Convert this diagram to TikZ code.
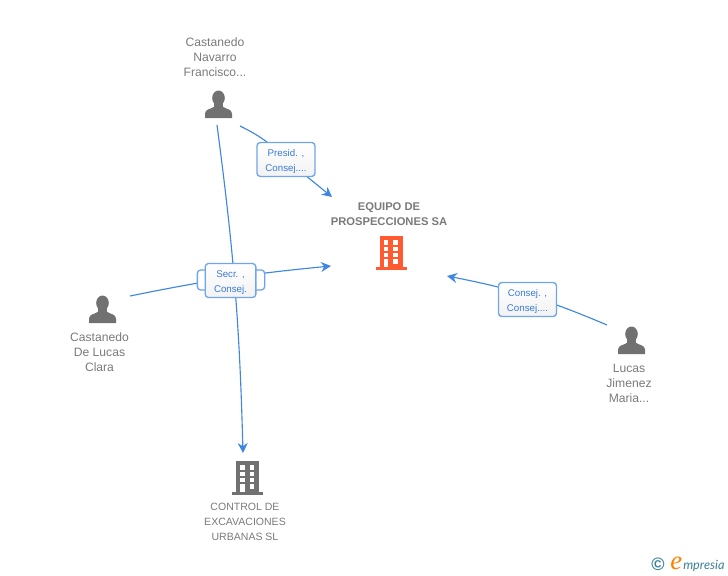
\documentclass[tikz,border=0pt]{standalone}
\usepackage{fontspec}
\setmainfont{Liberation Sans}
\newfontfamily\logofont{Lato}
\newfontfamily\logoefont{Liberation Serif}
\usetikzlibrary{arrows.meta,backgrounds}
\definecolor{linkblue}{HTML}{3F86E3}
\definecolor{boxblue}{HTML}{6FA5EA}
\definecolor{labelblue}{HTML}{3A7BD5}
\definecolor{icongray}{HTML}{717171}
\definecolor{textgray}{HTML}{7A7A7A}
\definecolor{firmorange}{HTML}{FF5A30}
\definecolor{logoteal}{HTML}{3C7F98}
\tikzset{
	link/.style={line width=0.85pt, color=linkblue, -{Stealth[length=7.5pt,width=7.5pt]}},
	rolebox/.style={draw=boxblue, line width=1pt, rounded corners=2.5pt, top color=white, bottom color=black!5, text=labelblue, minimum width=43.5pt, minimum height=25.5pt, inner sep=0pt, align=center, font=\fontsize{7.3}{11.25}\selectfont},
	caption/.style={text=textgray, align=center, inner sep=0pt, font=\fontsize{9.1}{11.25}\selectfont}
}
\def\rolelines#1#2{\rule{0pt}{8pt}#1\\#2}
\def\personicon(#1,#2){
	\begin{scope}[shift={(#1,#2)}]
		\fill[icongray] (0, -6.5) ellipse (6.3 and 7.5);
		\fill[icongray] (-4.5, -2) rectangle (4.5, 6);
		\fill[icongray] (-13.5, 13.5) -- (-13.5, 9) .. controls (-13.5, 4.5) and (-7, 4.5) .. (-4, 2) -- (4, 2) .. controls (7, 4.5) and (13.5, 4.5) .. (13.5, 9) -- (13.5, 13.5) -- cycle;
	\end{scope}
}
\def\firmicon(#1,#2)[#3]{
	\begin{scope}[shift={(#1,#2)}]
		\fill[#3] (-11.5, -17) rectangle (11.5, 15);
		\fill[#3] (-15.5, 14) rectangle (15.5, 17);
		\foreach \y in {-13, -6.5, -0.5} {
			\fill[white] (-7.5, \y) rectangle (-3, \y+4.5);
			\fill[white] (2, \y) rectangle (6.5, \y+4.5);
		}
		\fill[white] (-7.5, 6) rectangle (-3, 14);
		\fill[white] (2, 6) rectangle (6.5, 10.5);
	\end{scope}
}
\begin{document}
\begin{tikzpicture}[x=0.75pt, y=-0.75pt]
	%%%%% START %%%%%
	\useasboundingbox (0, 0) rectangle (728, 575);

	\personicon(218.5,104.5)
	\personicon(102.5,309.5)
	\personicon(631.5,340.5)
	\firmicon(391,253)[firmorange]
	\firmicon(247.5,478)[icongray]

	\node[caption] (navarro) at (215, 57) {Castanedo\\Navarro\\Francisco...};
	\node[caption] (clara) at (99.5, 352) {Castanedo\\De Lucas\\Clara};
	\node[caption] (maria) at (629, 383) {Lucas\\Jimenez\\Maria...};
	\node[caption, font=\fontsize{7.9}{11.25}\selectfont] (control) at (245, 522) {CONTROL DE\\EXCAVACIONES\\URBANAS SL};
	\node[caption, font=\bfseries\fontsize{8.4}{11.25}\selectfont] (equipo) at (389, 214.5) {EQUIPO DE\\PROSPECCIONES SA};

	% connector ends
	\coordinate (navarroout) at (240, 126);
	\coordinate (navarrodown) at (217, 125);
	\coordinate (claraout) at (130, 296);
	\coordinate (mariaout) at (607, 325);
	\coordinate (equipotop) at (332, 197);
	\coordinate (equipoleft) at (331, 266);
	\coordinate (equiporight) at (447, 276);
	\coordinate (controltop) at (243, 453);

	\node[draw=boxblue, line width=1pt, rounded corners=2.5pt, fill=white, minimum width=50.5pt, minimum height=15pt] (secrback) at (231, 280) {};
	\node[rolebox, minimum width=38pt] (secr) at (230.5, 280.5) {\rolelines{Secr. ,}{Consej.}};
	\node[rolebox] (presid) at (286, 159.5) {\rolelines{Presid. ,}{Consej....}};
	\node[rolebox] (consej) at (527.5, 299.5) {\rolelines{Consej. ,}{Consej....}};

	\begin{pgfonlayer}{background}
		\draw[link] (navarroout) to[bend left=10] (presid.center) -- (equipotop);
		\draw[link] (navarrodown) to[bend left=3] (controltop);
		\draw[link] (claraout) to[bend left=3] (equipoleft);
		\draw[link] (mariaout) to[bend right=6] (equiporight);
	\end{pgfonlayer}

	% logo
	\node[text=logoteal, inner sep=0pt, font=\bfseries\fontsize{13.5}{14}\selectfont] (copyr) at (658, 564) {\copyright};
	\node[text=logoteal, inner sep=0pt, anchor=base west, font=\logofont\itshape\fontsize{9.5}{11}\selectfont] (logotext) at (683, 569) {mpresia};
	\node[text=orange, inner sep=0pt, anchor=base east, font=\logoefont\itshape\fontsize{20}{21}\selectfont] (logoe) at (682.5, 569) {e};

	%%%%% END %%%%%
\end{tikzpicture}
\end{document}
